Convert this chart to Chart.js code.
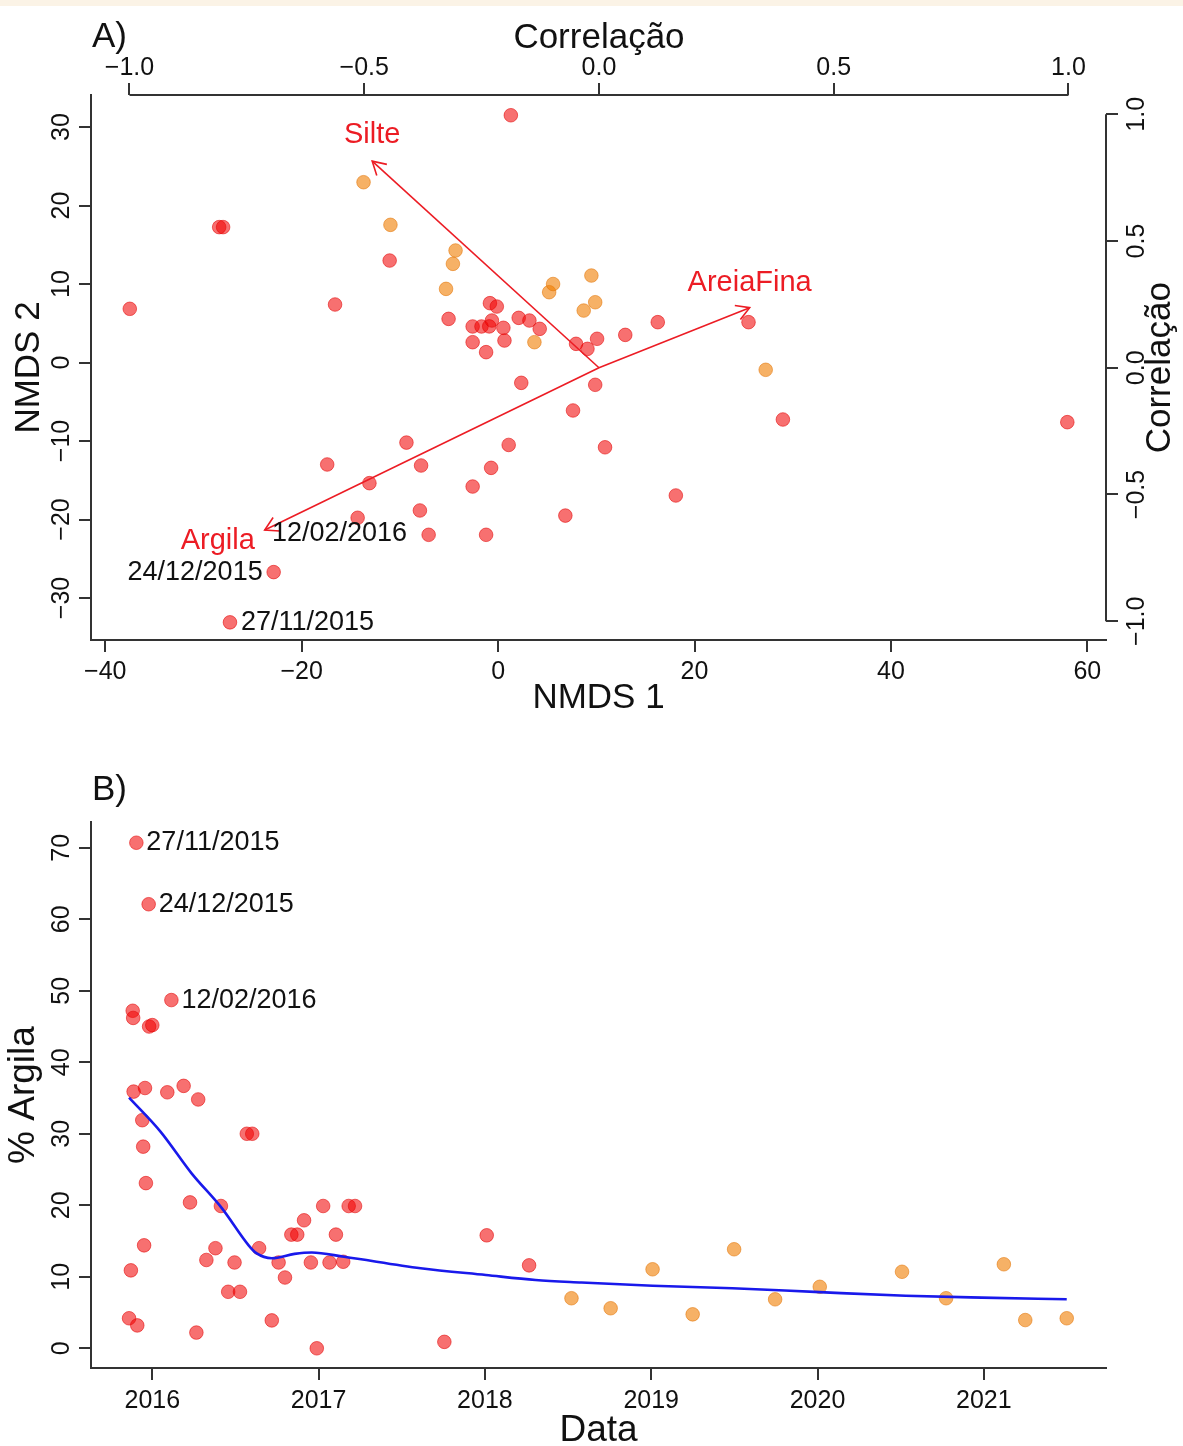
<!DOCTYPE html>
<html>
<head>
<meta charset="utf-8">
<script src="https://cdn.jsdelivr.net/npm/chart.js@4.4.1/dist/chart.umd.min.js"></script>
<style>
  html, body { margin: 0; padding: 0; background: #ffffff; }
  #band { position: absolute; left: 0; top: 0; width: 1183px; height: 6px; background: #FBF3E6; }
  #ca { position: absolute; left: 0; top: 0; }
  #cb { position: absolute; left: 0; top: 730px; }
</style>
</head>
<body>
<div id="band"></div>
<canvas id="ca" width="1183" height="730"></canvas>
<canvas id="cb" width="1183" height="716"></canvas>
<script>
// ---------------- Panel A: NMDS scores ----------------
const nmdsRedX = [-37.5, -28.4, -28.0, -16.6, -11.04, 1.3, -5.04, -2.59, -1.69, -0.9, -0.63, -0.83, -0.13, 0.54, 2.1, 3.19, 4.24,
  -2.59, -1.22, 0.65, 2.36, 7.94, 9.1, 10.08, 9.89, 7.63, 12.95, 16.26, 25.5, 29.0, 57.96, 10.89, -9.33, 1.08,
  -17.4, -7.84, -0.71, -13.1, -2.59, -14.3, -7.96, 6.85, -7.07, -1.22, -22.85, -27.3, 18.1];
const nmdsRedY = [6.84, 17.25, 17.25, 7.39, 12.99, 31.5, 5.56, 4.59, 4.59, 4.6, 5.35, 7.56, 7.13, 4.42, 5.69, 5.35, 4.29,
  2.59, 1.32, 2.8, -2.59, 2.38, 1.74, 3.02, -2.84, -6.11, 3.52, 5.14, 5.14, -7.26, -7.6, -10.8, -10.2, -10.5,
  -12.99, -13.12, -13.42, -15.37, -15.8, -19.78, -18.85, -19.5, -21.95, -21.95, -26.7, -33.1, -16.94];
const nmdsOrangeX = [-13.7, -10.96, -4.33, -4.6, -5.3, 3.7, 5.2, 5.6, 9.5, 9.89, 8.72, 27.25];
const nmdsOrangeY = [22.97, 17.54, 14.27, 12.57, 9.38, 2.59, 8.96, 10.0, 11.08, 7.68, 6.62, -0.93];

// envfit vectors (correlation units)
const vectorNames = ["Silte", "AreiaFina", "Argila"];
const vectorX = [-0.483, 0.321, -0.712];
const vectorY = [0.815, 0.237, -0.640];

// date labels in panel A (anchor in NMDS units, side of the label)
const annotAText = ["12/02/2016", "24/12/2015", "27/11/2015"];
const annotAX = [-24.15, -22.85, -27.3];
const annotAY = [-21.85, -26.7, -33.1];
const annotASide = ["right", "left", "right"];

// ticks panel A
const nmds1Ticks = [-40, -20, 0, 20, 40, 60];
const nmds2Ticks = [-30, -20, -10, 0, 10, 20, 30];
const corrTicks = [-1.0, -0.5, 0.0, 0.5, 1.0];

// ---------------- Panel B: % Argila over time ----------------
const redDates = ["2015-11-11", "2015-11-15", "2015-11-19", "2015-11-20", "2015-11-21", "2015-11-27", "2015-11-29",
  "2015-12-10", "2015-12-12", "2015-12-14", "2015-12-16", "2015-12-18", "2015-12-24", "2015-12-25", "2016-01-01",
  "2016-02-03", "2016-02-12", "2016-03-10", "2016-03-24", "2016-04-07", "2016-04-11", "2016-04-29", "2016-05-19",
  "2016-05-31", "2016-06-16", "2016-06-30", "2016-07-12", "2016-07-27", "2016-08-08", "2016-08-23", "2016-09-20",
  "2016-10-05", "2016-10-19", "2016-11-02", "2016-11-15", "2016-11-30", "2016-12-15", "2016-12-28", "2017-01-11",
  "2017-01-25", "2017-02-08", "2017-02-24", "2017-03-08", "2017-03-22", "2017-10-04", "2018-01-05", "2018-04-08"];
const redClay = [4.2, 10.9, 47.2, 46.2, 35.9, 70.7, 3.2,
  31.9, 28.2, 14.4, 36.4, 23.1, 62.1, 45.0, 45.2,
  35.8, 48.7, 36.7, 20.4, 2.2, 34.8, 12.35, 14.0,
  19.9, 7.9, 12.0, 7.9, 30.0, 30.0, 14.0, 3.9,
  12.0, 9.9, 15.9, 15.9, 17.9, 12.0, 0.0, 19.9,
  12.0, 15.9, 12.1, 19.9, 19.9, 0.9, 15.8, 11.6];
const orangeDates = ["2018-07-10", "2018-10-04", "2019-01-04", "2019-04-02", "2019-07-02", "2019-09-30",
  "2020-01-06", "2020-07-05", "2020-10-10", "2021-02-14", "2021-04-02", "2021-07-02"];
const orangeClay = [7.0, 5.6, 11.05, 4.75, 13.85, 6.85, 8.6, 10.7, 7.0, 11.75, 3.95, 4.2];

// smoothed (loess) curve
const loessDates = ["2015-11-11", "2016-01-19", "2016-03-27", "2016-06-02", "2016-07-31", "2016-08-17", "2016-09-20",
  "2016-11-09", "2016-12-17", "2017-02-26", "2017-08-13", "2018-01-03", "2018-04-22", "2018-08-01", "2019-01-04",
  "2019-06-28", "2020-01-06", "2020-07-13", "2020-12-28", "2021-07-02"];
const loessClay = [35.05, 30.3, 24.5, 19.6, 14.4, 13.3, 12.6, 13.2, 13.4, 12.8, 11.2, 10.25, 9.55, 9.2, 8.75,
  8.4, 7.85, 7.35, 7.08, 6.85];

// date labels in panel B
const annotBDates = ["2015-11-27", "2015-12-24", "2016-02-12"];
const annotBClay = [70.7, 62.1, 48.7];

// ticks panel B
const yearTicks = [2016, 2017, 2018, 2019, 2020, 2021];
const clayTicks = [0, 10, 20, 30, 40, 50, 60, 70];

// ---------------- helpers ----------------
const FONT = "'Liberation Sans', Arial, Helvetica, sans-serif";
const AXIS = '#333333';
const TXT = '#111111';
const RED_FILL = 'rgba(240,0,0,0.56)';
const RED_LINE = 'rgba(225,0,0,0.55)';
const ORA_FILL = 'rgba(240,125,0,0.60)';
const ORA_LINE = 'rgba(225,115,0,0.55)';
const ARROW = 'rgb(236,28,36)';

function decYear(s) {
  const [Y, M, D] = s.split('-').map(Number);
  const a = Date.UTC(Y, 0, 1), b = Date.UTC(Y + 1, 0, 1);
  return Y + (Date.UTC(Y, M - 1, D) - a) / (b - a);
}
function fmt(v, d) { return Number(v).toFixed(d).replace('-', '\u2212'); }
function fixedTicks(vals) { return s => { s.ticks = vals.map(v => ({ value: v })); }; }
const gridOpts = { display: true, drawOnChartArea: false, drawTicks: true, tickLength: 12, color: AXIS, tickColor: AXIS, lineWidth: 2 };
const borderOn = { display: true, color: AXIS, width: 2 };
function rotText(ctx, text, x, y) {
  ctx.save(); ctx.translate(x, y); ctx.rotate(-Math.PI / 2);
  ctx.textAlign = 'center'; ctx.textBaseline = 'middle';
  ctx.fillText(text, 0, 0); ctx.restore();
}
Chart.defaults.font.family = FONT;
Chart.defaults.color = TXT;

// ---------------- Panel A chart ----------------
const arrowLabelOffset = { Silte: [0, -26], AreiaFina: [0, -25], Argila: [-47, 11] };
const panelAPlugin = {
  id: 'panelA',
  afterDraw(chart) {
    const { ctx, chartArea: ca, scales } = chart;
    const { x, y, x2, y2 } = scales;
    ctx.save();
    ctx.strokeStyle = AXIS; ctx.lineWidth = 2;
    // top correlation axis line
    ctx.beginPath();
    ctx.moveTo(x2.getPixelForValue(corrTicks[0]), ca.top);
    ctx.lineTo(x2.getPixelForValue(corrTicks[corrTicks.length - 1]), ca.top);
    ctx.stroke();
    // right correlation axis line
    ctx.beginPath();
    ctx.moveTo(ca.right, y2.getPixelForValue(corrTicks[corrTicks.length - 1]));
    ctx.lineTo(ca.right, y2.getPixelForValue(corrTicks[0]));
    ctx.stroke();

    // arrow heads + labels
    ctx.strokeStyle = ARROW; ctx.lineWidth = 1.6; ctx.fillStyle = ARROW;
    ctx.font = '29px ' + FONT; ctx.textAlign = 'center'; ctx.textBaseline = 'middle';
    const ox = x2.getPixelForValue(0), oy = y2.getPixelForValue(0);
    vectorNames.forEach((n, i) => {
      const px = x2.getPixelForValue(vectorX[i]), py = y2.getPixelForValue(vectorY[i]);
      const ang = Math.atan2(py - oy, px - ox), L = 15, a = Math.PI / 6;
      ctx.beginPath();
      ctx.moveTo(px - L * Math.cos(ang - a), py - L * Math.sin(ang - a));
      ctx.lineTo(px, py);
      ctx.lineTo(px - L * Math.cos(ang + a), py - L * Math.sin(ang + a));
      ctx.stroke();
      const off = arrowLabelOffset[n];
      ctx.fillText(n, px + off[0], py + off[1]);
    });

    // date annotations
    ctx.fillStyle = TXT; ctx.font = '27px ' + FONT; ctx.textBaseline = 'middle';
    annotAText.forEach((t, i) => {
      const px = x.getPixelForValue(annotAX[i]), py = y.getPixelForValue(annotAY[i]);
      if (annotASide[i] === 'right') { ctx.textAlign = 'left'; ctx.fillText(t, px + 11, py); }
      else { ctx.textAlign = 'right'; ctx.fillText(t, px - 11, py); }
    });

    // rotated tick labels
    ctx.font = '25px ' + FONT; ctx.fillStyle = TXT;
    nmds2Ticks.forEach(v => rotText(ctx, fmt(v, 0), ca.left - 29, y.getPixelForValue(v)));
    corrTicks.forEach(v => rotText(ctx, fmt(v, 1), ca.right + 31, y2.getPixelForValue(v)));

    // titles
    ctx.font = '35px ' + FONT;
    rotText(ctx, 'NMDS 2', ca.left - 62, (ca.top + ca.bottom) / 2);
    rotText(ctx, 'Correlação', ca.right + 54, y2.getPixelForValue(0));
    ctx.textAlign = 'center'; ctx.textBaseline = 'alphabetic';
    ctx.fillText('NMDS 1', (ca.left + ca.right) / 2, 708);
    ctx.fillText('Correlação', x2.getPixelForValue(0), 48);
    ctx.textAlign = 'left';
    ctx.fillText('A)', 92, 47);
    ctx.restore();
  }
};

new Chart(document.getElementById('ca'), {
  type: 'scatter',
  data: {
    datasets: [
      ...vectorNames.map((n, i) => ({
        type: 'line', label: n, xAxisID: 'x2', yAxisID: 'y2',
        data: [{ x: 0, y: 0 }, { x: vectorX[i], y: vectorY[i] }],
        borderColor: ARROW, borderWidth: 1.6, pointRadius: 0, fill: false, tension: 0
      })),
      {
        label: 'NMDS (2018–2021)', xAxisID: 'x', yAxisID: 'y',
        data: nmdsOrangeX.map((v, i) => ({ x: v, y: nmdsOrangeY[i] })),
        backgroundColor: ORA_FILL, borderColor: ORA_LINE, borderWidth: 1, pointRadius: 6.8
      },
      {
        label: 'NMDS (2015–2018)', xAxisID: 'x', yAxisID: 'y',
        data: nmdsRedX.map((v, i) => ({ x: v, y: nmdsRedY[i] })),
        backgroundColor: RED_FILL, borderColor: RED_LINE, borderWidth: 1, pointRadius: 6.8
      }
    ]
  },
  options: {
    responsive: false, animation: false,
    layout: { padding: 0 },
    plugins: { legend: { display: false }, tooltip: { enabled: false } },
    scales: {
      x: {
        type: 'linear', position: 'bottom', min: -41.45, max: 61.9,
        afterBuildTicks: fixedTicks(nmds1Ticks), afterFit: s => { s.height = 90; },
        grid: gridOpts, border: borderOn,
        ticks: { font: { size: 25 }, color: TXT, padding: 5, maxRotation: 0, autoSkip: false, callback: v => fmt(v, 0) }
      },
      y: {
        type: 'linear', position: 'left', min: -35.35, max: 34.08,
        afterBuildTicks: fixedTicks(nmds2Ticks), afterFit: s => { s.width = 91; },
        grid: gridOpts, border: borderOn, ticks: { display: false }
      },
      x2: {
        type: 'linear', axis: 'x', position: 'top', min: -1.082, max: 1.080,
        afterBuildTicks: fixedTicks(corrTicks), afterFit: s => { s.height = 95; },
        grid: gridOpts, border: { display: false },
        ticks: { font: { size: 25 }, color: TXT, padding: 0, maxRotation: 0, autoSkip: false, callback: v => fmt(v, 1) }
      },
      y2: {
        type: 'linear', axis: 'y', position: 'right', min: -1.074, max: 1.076,
        afterBuildTicks: fixedTicks(corrTicks), afterFit: s => { s.width = 77; },
        grid: gridOpts, border: { display: false }, ticks: { display: false }
      }
    }
  },
  plugins: [panelAPlugin]
});

// ---------------- Panel B chart ----------------
const panelBPlugin = {
  id: 'panelB',
  afterDraw(chart) {
    const { ctx, chartArea: ca, scales: { x, y } } = chart;
    ctx.save();
    ctx.fillStyle = TXT;
    ctx.font = '27px ' + FONT; ctx.textAlign = 'left'; ctx.textBaseline = 'middle';
    annotBDates.forEach((d, i) => {
      ctx.fillText(d.split('-').reverse().join('/'), x.getPixelForValue(decYear(d)) + 10, y.getPixelForValue(annotBClay[i]));
    });
    ctx.font = '25px ' + FONT;
    clayTicks.forEach(v => rotText(ctx, fmt(v, 0), ca.left - 29, y.getPixelForValue(v)));
    ctx.font = '37px ' + FONT;
    rotText(ctx, '% Argila', 24, (ca.top + ca.bottom) / 2);
    ctx.textAlign = 'center'; ctx.textBaseline = 'alphabetic';
    ctx.fillText('Data', (ca.left + ca.right) / 2, 711);
    ctx.font = '35px ' + FONT; ctx.textAlign = 'left';
    ctx.fillText('B)', 92, 70);
    ctx.restore();
  }
};

new Chart(document.getElementById('cb'), {
  type: 'scatter',
  data: {
    datasets: [
      {
        type: 'line', label: 'loess', data: loessDates.map((d, i) => ({ x: decYear(d), y: loessClay[i] })),
        borderColor: 'rgb(25,25,235)', borderWidth: 2.6, pointRadius: 0, fill: false, cubicInterpolationMode: 'monotone'
      },
      {
        label: '2018–2021', data: orangeDates.map((d, i) => ({ x: decYear(d), y: orangeClay[i] })),
        backgroundColor: ORA_FILL, borderColor: ORA_LINE, borderWidth: 1, pointRadius: 6.8
      },
      {
        label: '2015–2018', data: redDates.map((d, i) => ({ x: decYear(d), y: redClay[i] })),
        backgroundColor: RED_FILL, borderColor: RED_LINE, borderWidth: 1, pointRadius: 6.8
      }
    ]
  },
  options: {
    responsive: false, animation: false,
    layout: { padding: { top: 92, right: 77, left: 0, bottom: 0 } },
    plugins: { legend: { display: false }, tooltip: { enabled: false } },
    scales: {
      x: {
        type: 'linear', position: 'bottom', min: 2015.6314, max: 2021.7348,
        afterBuildTicks: fixedTicks(yearTicks), afterFit: s => { s.height = 78; },
        grid: gridOpts, border: borderOn,
        ticks: { font: { size: 25 }, color: TXT, padding: 6, maxRotation: 0, autoSkip: false, callback: v => String(v) }
      },
      y: {
        type: 'linear', position: 'left', min: -2.755, max: 73.6,
        afterBuildTicks: fixedTicks(clayTicks), afterFit: s => { s.width = 91; },
        grid: gridOpts, border: borderOn, ticks: { display: false }
      }
    }
  },
  plugins: [panelBPlugin]
});
</script>
</body>
</html>
